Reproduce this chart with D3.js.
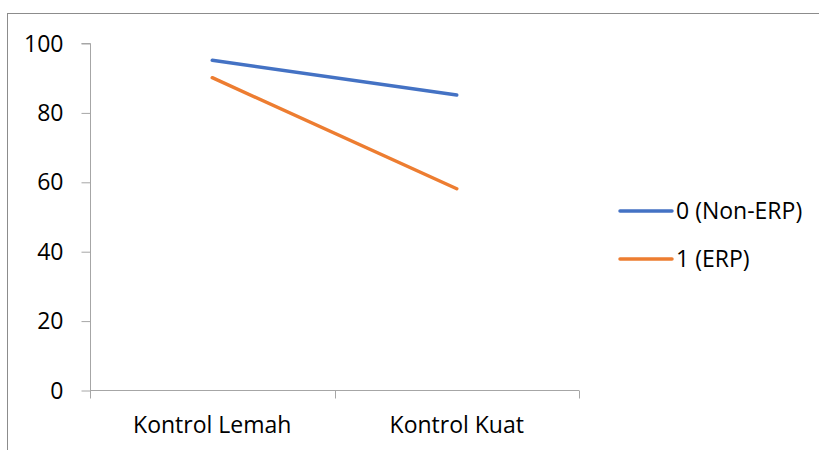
<!DOCTYPE html>
<html><head><meta charset="utf-8">
<script src="https://cdn.jsdelivr.net/npm/d3@7"></script>
<style>body{margin:0;background:#fff}svg{display:block}text{font-family:"Open Sans",sans-serif;fill:#000}</style>
</head><body><svg id="c" width="819" height="450"></svg>
<script>
const categories = ["Kontrol Lemah", "Kontrol Kuat"];
const seriesNames = ["0 (Non-ERP)", "1 (ERP)"];
const nonErp = [95, 85];
const erp = [90, 58];
const yTicks = [0, 20, 40, 60, 80, 100];
const colors = ["#4472C4", "#ED7D31"];
const FS = 23;

const svg = d3.select("#c");
svg.append("rect").attr("x", 7.5).attr("y", 13.5).attr("width", 830).attr("height", 460)
  .attr("fill", "none").attr("stroke", "#8c8c8c").attr("stroke-width", 1);

const x = d3.scaleBand().domain(categories).range([90, 579]);
const y = d3.scaleLinear().domain([0, 100]).range([390, 43]);

const axisCol = "#a6a6a6";
const yAxis = svg.append("g").attr("transform", "translate(90.5,0)")
  .call(d3.axisLeft(y).tickValues(yTicks).tickSize(9).tickPadding(18));
yAxis.select(".domain").attr("stroke", axisCol).attr("d", `M-9,${y(100)+0.5}H0V${y(0)+0.5}`);
yAxis.selectAll(".tick line").attr("stroke", axisCol).attr("transform", "translate(0,0.5)");
yAxis.selectAll("text").attr("font-size", FS).attr("font-family", "Open Sans").attr("dy", "0.35em");

const xg = svg.append("g").attr("transform", "translate(0,390.5)");
xg.append("line").attr("x1", 90).attr("x2", 579).attr("stroke", axisCol);
const bounds = [x.range()[0], ...categories.map(c => x(c) + x.bandwidth())];
xg.selectAll(".tk").data(bounds).join("line")
  .attr("x1", d => Math.round(d) + 0.5).attr("x2", d => Math.round(d) + 0.5)
  .attr("y1", 0).attr("y2", 8).attr("stroke", axisCol);
xg.selectAll(".lbl").data(categories).join("text")
  .attr("x", d => x(d) + x.bandwidth() / 2).attr("y", 42)
  .attr("text-anchor", "middle").attr("font-size", FS).text(d => d);

const line = d3.line().x((d, i) => x(categories[i]) + x.bandwidth() / 2).y(d => y(d));
[nonErp, erp].forEach((s, k) => {
  svg.append("path").attr("d", line(s)).attr("fill", "none")
    .attr("stroke", colors[k]).attr("stroke-width", 3.5).attr("stroke-linecap", "round");
});

const leg = svg.append("g");
seriesNames.forEach((n, k) => {
  const ly = 211 + k * 48;
  leg.append("line").attr("x1", 620).attr("x2", 672).attr("y1", ly).attr("y2", ly)
    .attr("stroke", colors[k]).attr("stroke-width", 3.5).attr("stroke-linecap", "round");
  leg.append("text").attr("x", 676).attr("y", ly).attr("dy", "0.35em").attr("font-size", FS).text(n);
});
</script></body></html>
